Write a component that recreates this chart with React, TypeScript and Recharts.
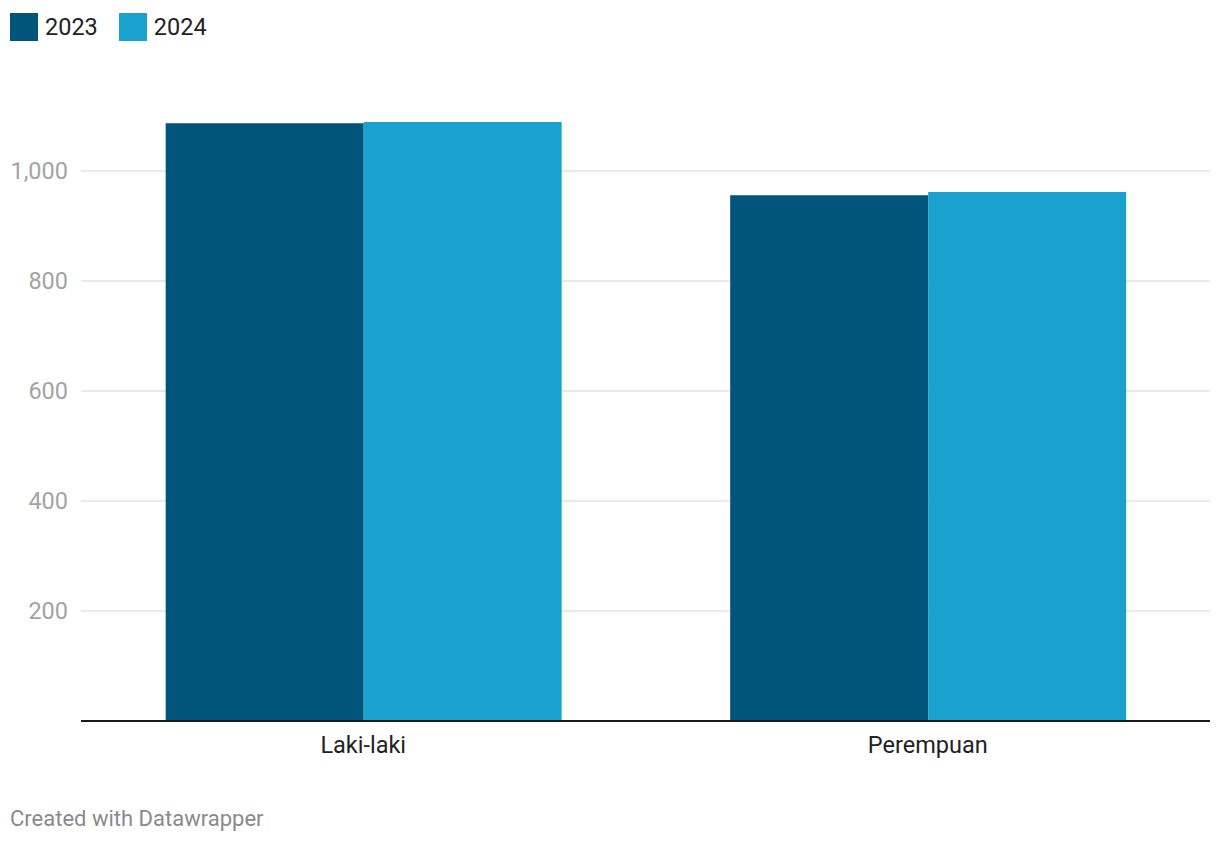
import React from 'react';
import { BarChart, Bar, XAxis, YAxis, CartesianGrid } from 'recharts';

const categories = ['Laki-laki', 'Perempuan'];
const values2023 = [1087, 956];
const values2024 = [1089, 962];
const yTicks = [200, 400, 600, 800, 1000];

const data = categories.map((name, i) => ({
  name,
  y2023: values2023[i],
  y2024: values2024[i],
}));

const colors = { y2023: '#01547a', y2024: '#1aa1ce' };
const font = 'Roboto, "Noto Sans", sans-serif';

const LegendItem = ({ color, label }: { color: string; label: string }) => (
  <div style={{ display: 'flex', alignItems: 'center', marginRight: 21 }}>
    <div style={{ width: 28, height: 28, background: color, marginRight: 7 }} />
    <span style={{ fontSize: 23.5, color: '#222' }}>{label}</span>
  </div>
);

const formatTick = (v: number) => v.toLocaleString('en-US');

const App = () => {
  return (
    <div
      style={{
        position: 'fixed',
        top: 0,
        left: 0,
        width: 1220,
        height: 844,
        background: '#fff',
        fontFamily: font,
      }}
    >
      <div style={{ position: 'absolute', top: 13, left: 10, display: 'flex' }}>
        <LegendItem color={colors.y2023} label="2023" />
        <LegendItem color={colors.y2024} label="2024" />
      </div>

      <div style={{ position: 'absolute', top: 0, left: 0 }}>
        <BarChart
          width={1220}
          height={800}
          data={data}
          margin={{ top: 116, right: 10, left: 0, bottom: 39 }}
          barCategoryGap="15%"
          barGap={0}
        >
          <CartesianGrid vertical={false} stroke="#e3e3e3" strokeWidth={1.5} syncWithTicks />
          <XAxis
            dataKey="name"
            height={40}
            axisLine={{ stroke: '#1a1a1a', strokeWidth: 2 }}
            tickLine={false}
            tickMargin={9}
            tick={{ fontSize: 23.5, fill: '#222', fontFamily: font }}
          />
          <YAxis
            width={81}
            domain={[0, 1100]}
            ticks={yTicks}
            axisLine={false}
            tickLine={false}
            tickMargin={7}
            tickFormatter={formatTick}
            tick={{ fontSize: 23.5, fill: '#a3a3a3', fontFamily: font }}
          />
          <Bar dataKey="y2023" fill={colors.y2023} isAnimationActive={false} />
          <Bar dataKey="y2024" fill={colors.y2024} isAnimationActive={false} />
        </BarChart>
      </div>

      <div
        style={{
          position: 'absolute',
          top: 806,
          left: 10,
          fontSize: 22,
          color: '#8a8a8a',
        }}
      >
        Created with Datawrapper
      </div>
    </div>
  );
};

export default App;
